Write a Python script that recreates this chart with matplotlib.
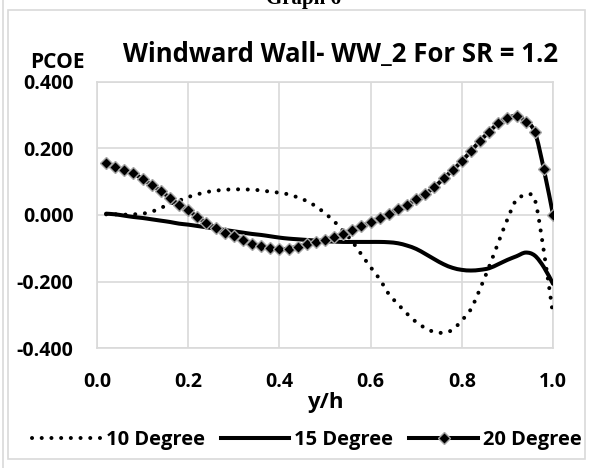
import matplotlib.pyplot as plt
import numpy as np
from matplotlib.lines import Line2D
from matplotlib.patches import PathPatch, Rectangle
from matplotlib.path import Path

plt.rcParams["font.family"] = ["Open Sans", "DejaVu Sans"]
plt.rcParams["font.weight"] = "bold"
plt.rcParams["axes.labelweight"] = "bold"

y_h = [round(0.02 * k, 2) for k in range(1, 51)]

deg10 = [0.002, 0.002, 0.001, 0.002, 0.004, 0.010, 0.021, 0.034, 0.043, 0.054,
         0.062, 0.069, 0.073, 0.076, 0.077, 0.077, 0.076, 0.074, 0.070, 0.067,
         0.062, 0.053, 0.042, 0.026, 0.005, -0.019, -0.048, -0.080, -0.119, -0.157,
         -0.193, -0.238, -0.268, -0.297, -0.322, -0.340, -0.352, -0.354, -0.345, -0.317,
         -0.283, -0.222, -0.155, -0.083, -0.013, 0.047, 0.057, 0.047, -0.110, -0.300]

deg15 = [0.004, 0.002, -0.002, -0.006, -0.009, -0.013, -0.017, -0.021, -0.026, -0.029,
         -0.033, -0.037, -0.041, -0.045, -0.049, -0.053, -0.057, -0.060, -0.064, -0.068,
         -0.071, -0.073, -0.075, -0.077, -0.079, -0.080, -0.081, -0.081, -0.081, -0.081,
         -0.081, -0.082, -0.085, -0.092, -0.102, -0.117, -0.133, -0.148, -0.159, -0.165,
         -0.167, -0.165, -0.160, -0.148, -0.135, -0.124, -0.113, -0.122, -0.157, -0.207]

deg20 = [0.155, 0.145, 0.135, 0.125, 0.108, 0.090, 0.072, 0.051, 0.031, 0.014,
         -0.006, -0.024, -0.038, -0.053, -0.064, -0.076, -0.086, -0.093, -0.100, -0.103,
         -0.101, -0.095, -0.088, -0.081, -0.074, -0.066, -0.056, -0.044, -0.034, -0.021,
         -0.008, 0.004, 0.017, 0.031, 0.047, 0.064, 0.084, 0.110, 0.135, 0.162,
         0.192, 0.223, 0.250, 0.276, 0.291, 0.298, 0.281, 0.250, 0.137, 0.001]

x_ticks = [0.0, 0.2, 0.4, 0.6, 0.8, 1.0]
y_ticks = [-0.4, -0.2, 0.0, 0.2, 0.4]


def smooth_path(xs, ys):
    # cubic bezier through every point, like a spreadsheet "smoothed line"
    p = np.column_stack([xs, ys])
    n = len(p)
    verts = [p[0]]
    codes = [Path.MOVETO]
    for i in range(n - 1):
        p0 = p[i - 1] if i > 0 else p[i]
        p3 = p[i + 2] if i + 2 < n else p[i + 1]
        c1 = p[i] + (p[i + 1] - p0) / 6
        c2 = p[i + 1] - (p3 - p[i]) / 6
        verts += [c1, c2, p[i + 1]]
        codes += [Path.CURVE4] * 3
    return Path(verts, codes)


fig = plt.figure(figsize=(5.9, 4.68), dpi=100)
ax = fig.add_axes([0.1644, 0.2564, 0.7729, 0.5684])

dot_style = (0, (0.01, 2.4))
ax.add_patch(PathPatch(smooth_path(y_h, deg10), fill=False, lw=2.9, color="black",
                       linestyle=dot_style, capstyle="round", zorder=3))
ax.add_patch(PathPatch(smooth_path(y_h, deg15), fill=False, lw=2.9, color="black",
                       capstyle="round", zorder=3))
ax.add_patch(PathPatch(smooth_path(y_h, deg20), fill=False, lw=2.9, color="black",
                       capstyle="round", zorder=4))
ax.plot(y_h, deg20, ls="none", marker="D", ms=6.2, mfc="black", mec="#a6a6a6",
        mew=1.0, zorder=5)

ax.set_xlim(0, 1.0)
ax.set_ylim(-0.4, 0.4)
ax.set_xticks(x_ticks)
ax.set_xticklabels([f"{v:.1f}" for v in x_ticks])
ax.set_yticks(y_ticks)
ax.set_yticklabels([f"{v:.3f}" for v in y_ticks])
ax.tick_params(length=0, labelsize=14)
ax.tick_params(axis="x", pad=17)
ax.tick_params(axis="y", pad=17)
ax.grid(True, color="#d9d9d9", lw=1.2)
ax.set_axisbelow(True)
for s in ax.spines.values():
    s.set_color("#d9d9d9")
    s.set_linewidth(1.2)

ax.set_xlabel("y/h", fontsize=16, labelpad=0)
fig.text(0.098, 0.867, "PCOE", fontsize=15, ha="center", va="center")
fig.text(0.578, 0.884, "Windward Wall- WW_2 For SR = 1.2", fontsize=18.5,
         ha="center", va="center")
fig.text(0.515, 1 - 4 / 468, "Graph 6", fontsize=15, ha="center", va="baseline",
         family="Liberation Serif", weight="bold")

handles = [
    Line2D([], [], color="black", lw=2.9, linestyle=dot_style, dash_capstyle="round"),
    Line2D([], [], color="black", lw=2.9),
    Line2D([], [], color="black", lw=2.9, marker="D", ms=6.2, mfc="black",
           mec="#a6a6a6", mew=1.0),
]
fig.legend(handles, ["10 Degree", "15 Degree", "20 Degree"], loc="center",
           bbox_to_anchor=(0.52, 1 - 440 / 468), ncol=3, frameon=False, fontsize=14.5,
           handlelength=3.4, handletextpad=0.25, columnspacing=0.8)

# chart frame
fig.add_artist(Rectangle((8 / 590, 1 - 459 / 468), 577 / 590, 449 / 468,
                         transform=fig.transFigure, fill=False, ec="#d9d9d9", lw=1.2))
fig.add_artist(Line2D([3 / 590, 3 / 590], [0, 1], transform=fig.transFigure,
                      color="#d9d9d9", lw=1.2))

fig.savefig("out.png", dpi=100)
